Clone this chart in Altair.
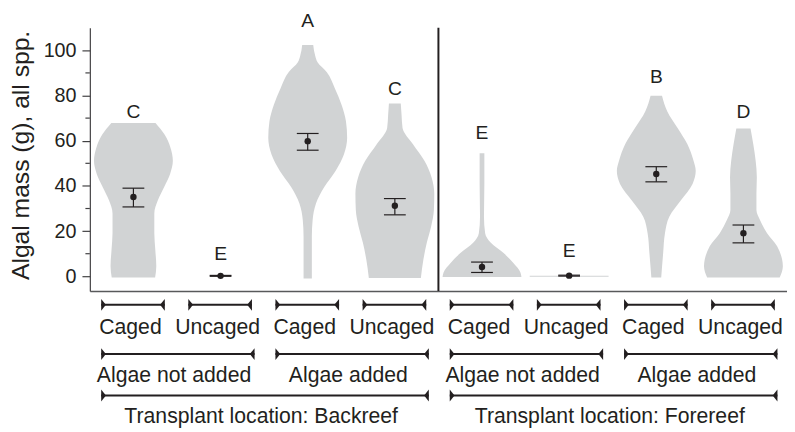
import altair as alt
import pandas as pd

# ---------------- data ----------------
groups = [1, 2, 3, 4, 5, 6, 7, 8]
cage_labels = ["Caged", "Uncaged", "Caged", "Uncaged", "Caged", "Uncaged", "Caged", "Uncaged"]
algae_labels = ["Algae not added", "Algae added", "Algae not added", "Algae added"]
algae_spans = [(1, 2), (3, 4), (5, 6), (7, 8)]
location_labels = ["Transplant location: Backreef", "Transplant location: Forereef"]
location_spans = [(1, 4), (5, 8)]

# violin profiles: algal mass (g) and relative half-width (1 = widest)
v1_y = [-0.5, 4.5, 11.8, 19.1, 27.8, 33.6, 39.5, 45.3, 51.1, 56.9, 62.7, 67.8]
v1_w = [0.55, 0.58, 0.555, 0.53, 0.53, 0.62, 0.78, 0.93, 1.0, 0.94, 0.79, 0.56]
v2_y = []
v2_w = []
v3_y = [-1.0, 10.4, 17.6, 24.9, 32.2, 39.5, 46.7, 54.0, 61.3, 68.6, 75.8, 83.1, 90.4, 94.7, 97.6, 102.4]
v3_w = [0.105, 0.105, 0.105, 0.125, 0.21, 0.42, 0.71, 0.92, 1.0, 0.97, 0.86, 0.69, 0.48, 0.25, 0.19, 0.14]
v4_y = [-0.7, 7.5, 14.8, 22.0, 29.3, 36.6, 43.8, 51.1, 58.4, 65.6, 71.5, 76.5]
v4_w = [0.66, 0.725, 0.81, 0.92, 0.99, 1.0, 0.93, 0.75, 0.46, 0.195, 0.17, 0.15]
v5_y = [-0.3, 1.7, 6.0, 10.4, 14.8, 19.1, 26.4, 40.9, 54.4]
v5_w = [1.0, 0.975, 0.79, 0.54, 0.225, 0.08, 0.05, 0.06, 0.06]
v6_y = [-0.25, 0.25]
v6_w = [1.0, 1.0]
v7_y = [-0.5, 10.4, 19.1, 26.4, 33.6, 40.9, 46.7, 51.1, 58.4, 65.6, 72.9, 79.9]
v7_w = [0.125, 0.175, 0.22, 0.33, 0.625, 0.92, 1.0, 0.945, 0.79, 0.54, 0.28, 0.145]
v8_y = [-0.5, 4.5, 7.5, 13.3, 19.1, 24.9, 29.3, 36.6, 43.8, 51.1, 58.4, 65.4]
v8_w = [0.92, 1.0, 0.98, 0.855, 0.6, 0.42, 0.33, 0.33, 0.34, 0.31, 0.25, 0.18]

means = [35.1, 0.2, 59.8, 31.2, 4.1, 0.3, 45.3, 19.1]
err_lo = [30.7, 0.0, 55.8, 27.2, 1.7, 0.1, 41.8, 14.8]
err_hi = [39.0, 0.4, 63.2, 34.4, 6.3, 0.5, 48.5, 22.7]
letters = ["C", "E", "A", "C", "E", "E", "B", "D"]
letter_y = [72.9, 10.4, 113.3, 83.1, 63.8, 11.7, 88.8, 73.2]

y_ticks = [0, 20, 40, 60, 80, 100]
y_minor = [10, 30, 50, 70, 90]

# ---------------- styling ----------------
FONT = "Liberation Sans, Arial, Helvetica, sans-serif"
INK = "#231f20"
GRAY = "#d1d3d4"
HW = 0.4525      # max violin half-width in x units
CAP = 0.125      # error-bar cap half-width
BR_L, BR_R1, BR_R2 = 0.37, 0.36, 0.39

profiles = [(v1_y, v1_w), (v2_y, v2_w), (v3_y, v3_w), (v4_y, v4_w),
            (v5_y, v5_w), (v6_y, v6_w), (v7_y, v7_w), (v8_y, v8_w)]
rows = []
for g, (ys, ws) in zip(groups, profiles):
    for v, w in zip(ys, ws):
        rows.append({"g": g, "v": v, "w": w})
vdf = pd.DataFrame(rows)

sdf = pd.DataFrame({"g": groups, "mean": means, "lo": err_lo, "hi": err_hi,
                    "letter": letters, "ly": letter_y})

x_scale = alt.Scale(domain=[0.5, 8.5], nice=False, zero=False)
y_scale = alt.Scale(domain=[-6.5, 110], nice=False, zero=False)
x_axis = alt.Axis(labels=False, ticks=False, grid=False, title=None,
                  domainColor="#58595b", domainWidth=1.5)
y_axis = alt.Axis(values=y_ticks, tickSize=8, tickColor="#414042", tickWidth=1.2,
                  domainColor="#414042", domainWidth=1.2, labelFont=FONT,
                  labelFontSize=20, labelColor=INK, labelPadding=6, grid=False,
                  title="Algal mass (g), all spp.", titleFont=FONT, titleFontSize=25,
                  titleFontWeight="normal", titleColor=INK, titleAngle=270,
                  titleAlign="center", titleBaseline="alphabetic",
                  titleX=-62, titleY=129)


def X(f):
    return alt.X(f, type="quantitative", scale=x_scale, axis=x_axis)


def Y(f):
    return alt.Y(f, type="quantitative", scale=y_scale, axis=y_axis)


layers = []

# one horizontal ranged area per violin
for g in groups:
    gdf = vdf[vdf["g"] == g]
    if gdf.empty:
        continue
    vio = alt.Chart(gdf).transform_calculate(
        xl=f"datum.g - datum.w * {HW}", xr=f"datum.g + datum.w * {HW}"
    ).mark_area(orient="horizontal", interpolate="monotone", color=GRAY,
                opacity=1).encode(
        y=Y("v"), x=X("xl"), x2=alt.X2("xr")
    )
    layers.append(vio)

base = alt.Chart(sdf).transform_calculate(
    cl=f"datum.g - {CAP}", cr=f"datum.g + {CAP}"
)
layers.append(base.mark_rule(color=INK, strokeWidth=1.2).encode(
    x=X("g"), y=Y("lo"), y2=alt.Y2("hi")))
layers.append(base.mark_rule(color=INK, strokeWidth=1.2).encode(
    x=X("cl"), x2=alt.X2("cr"), y=Y("lo")))
layers.append(base.mark_rule(color=INK, strokeWidth=1.2).encode(
    x=X("cl"), x2=alt.X2("cr"), y=Y("hi")))
layers.append(base.mark_circle(size=42, color=INK, opacity=1).encode(
    x=X("g"), y=Y("mean")))
layers.append(base.mark_text(font=FONT, fontSize=19.5, color=INK, baseline="middle", dy=1).encode(
    x=X("g"), y=Y("ly"), text="letter:N"))

# divider between transplant locations
div_df = pd.DataFrame({"x": [(location_spans[0][1] + location_spans[1][0]) / 2],
                       "y0": [y_scale.domain[0]], "y1": [y_scale.domain[1]]})
layers.append(alt.Chart(div_df).mark_rule(color=INK, strokeWidth=2).encode(
    x=X("x"), y=Y("y0"), y2=alt.Y2("y1")))

# minor ticks on the y axis
layers.append(alt.Chart(pd.DataFrame({"m": y_minor})).mark_rule(
    color="#414042", strokeWidth=1.2).encode(
    y=Y("m"), x=alt.value(-4.5), x2=alt.value(0)))

# hierarchical category brackets below the plot
levels = [
    ([(g, g) for g in groups], cage_labels, BR_R1, 281, 311),
    (algae_spans, algae_labels, BR_R2, 331, 359),
    (location_spans, location_labels, BR_R2, 373, 400.7),
]
LEFT_CAP = "M0,-1L0.8,0L0,1Z"
RIGHT_CAP = "M0,-1L-0.8,0L0,1Z"
for spans, labels, rpad, ry, ty in levels:
    bdf = pd.DataFrame({
        "s": [a - BR_L for a, b in spans],
        "e": [b + rpad for a, b in spans],
        "mid": [(a + b) / 2 for a, b in spans],
        "label": labels,
    })
    bc = alt.Chart(bdf)
    layers.append(bc.mark_rule(color=INK, strokeWidth=2).encode(
        x=X("s"), x2=alt.X2("e"), y=alt.value(ry)))
    layers.append(bc.mark_point(shape=LEFT_CAP, size=144, filled=True, color=INK,
                                opacity=1, strokeWidth=0).encode(
        x=X("s"), y=alt.value(ry)))
    layers.append(bc.mark_point(shape=RIGHT_CAP, size=144, filled=True, color=INK,
                                opacity=1, strokeWidth=0).encode(
        x=X("e"), y=alt.value(ry)))
    layers.append(bc.mark_text(font=FONT, fontSize=21.5, color=INK,
                               baseline="alphabetic", dx=-3).encode(
        x=X("mid"), y=alt.value(ty), text="label:N"))

chart = alt.layer(*layers).properties(
    width=707, height=267,
    autosize=alt.AutoSizeParams(type="none"),
    padding={"left": 83, "top": 17, "right": 0, "bottom": 140},
).configure_view(stroke=None)

chart.save("out.html", embed_options={"renderer": "svg", "actions": False})
